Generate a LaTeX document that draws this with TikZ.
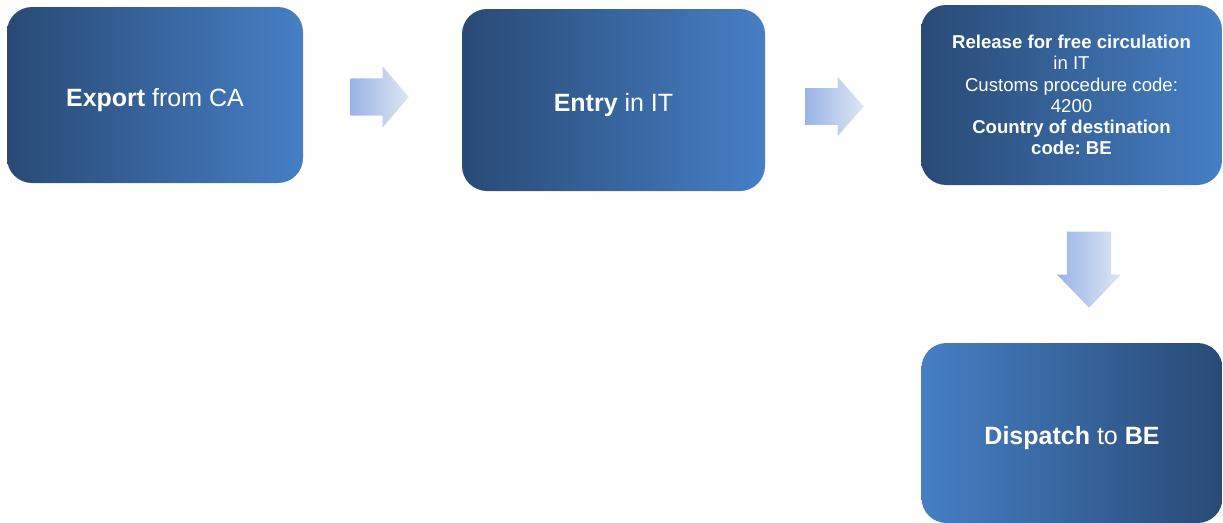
\documentclass[tikz,border=0pt]{standalone}
\usepackage{fontspec}
\setmainfont{Liberation Sans}
\usepackage{xcolor}
\usepackage{tikz}
\usetikzlibrary{shapes,arrows,calc,positioning}
\definecolor{boxdark}{HTML}{294A75}
\definecolor{boxlight}{HTML}{467FC5}
\definecolor{arrdark}{HTML}{9BB4E6}
\definecolor{arrlight}{HTML}{DDE6F4}
\tikzstyle{box} = [rectangle, rounded corners=25pt, text=white, align=center,
  font={\fontsize{25}{29}\selectfont\frenchspacing}, inner sep=0pt]
\tikzstyle{oneline} = [text height=27pt, text depth=5pt]
\tikzstyle{fatarrow} = [single arrow, single arrow head indent=0pt, inner sep=0pt,
  left color=arrdark, right color=arrlight, anchor=tip]

\begin{document}
\begin{tikzpicture}[
      x=1pt, y=-1pt
    ]
      \useasboundingbox (0,0) rectangle (1223,522);

      \node[box, oneline, left color=boxdark, right color=boxlight,
        minimum width=296pt, minimum height=176pt] (export) at (155,95)
        {\textbf{Export} from CA};
      \node[box, oneline, left color=boxdark, right color=boxlight,
        minimum width=303pt, minimum height=182pt] (entry) at (613.5,100)
        {\textbf{Entry} in IT};
      \node[box, left color=boxdark, right color=boxlight,
        minimum width=301pt, minimum height=180pt,
        font={\fontsize{18.6}{21.3}\selectfont\frenchspacing}] (release) at (1071.5,95)
        {\textbf{Release for free circulation}\\in IT\\Customs procedure code:\\4200\\
         \textbf{Country of destination}\\\textbf{code: BE}};
      \node[box, oneline, left color=boxlight, right color=boxdark,
        minimum width=301pt, minimum height=180pt] (dispatch) at (1072,433)
        {\textbf{Dispatch} to \textbf{BE}};

      \node[fatarrow, minimum height=58pt, minimum width=61pt, inner ysep=11pt,
        single arrow tip angle=99] (toEntry) at (409,97) {};
      \node[fatarrow, minimum height=58pt, minimum width=59pt, inner ysep=11.5pt,
        single arrow tip angle=97] (toRelease) at (864,106.5) {};
      \node[fatarrow, shape border rotate=270, minimum height=76pt, minimum width=64pt,
        inner xsep=15.5pt, single arrow tip angle=88] (toDispatch) at (1089,308) {};
    \end{tikzpicture}
\end{document}
